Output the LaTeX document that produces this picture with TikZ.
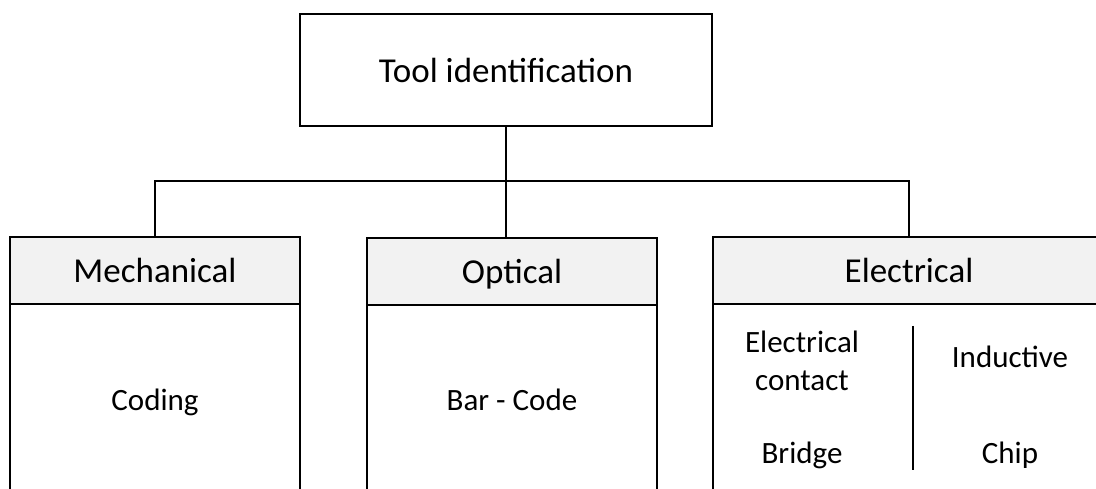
\documentclass[tikz,border=0pt]{standalone}
\usepackage{fontspec}
\setmainfont{Carlito}
\definecolor{headfill}{HTML}{F2F2F2}
\begin{document}
\begin{tikzpicture}[x=1pt,y=-1pt,
  box/.style={draw=black, line width=1.7pt, inner sep=0pt},
  head/.style={box, fill=headfill, font=\fontsize{35}{42}\selectfont,
               text height=25pt, text depth=0pt},
  body/.style={box, fill=white},
  label/.style={font=\fontsize{31}{38}\selectfont, align=center, inner sep=0pt},
  link/.style={draw=black, line width=1.6pt}]
\useasboundingbox (0,0) rectangle (1096,489);
\clip (0,0) rectangle (1096,489);

% root
\node[box, minimum width=412pt, minimum height=112pt,
      font=\fontsize{35}{42}\selectfont, text height=26pt, text depth=0pt]
      (top) at (506,70) {Tool identification};

% column bodies (run past the lower edge)
\node[body, minimum width=290pt, minimum height=220pt, anchor=north] (mechbody) at (155,303) {};
\node[body, minimum width=290pt, minimum height=220pt, anchor=north] (optbody) at (512,304) {};
\node[body, minimum width=392pt, minimum height=220pt, anchor=north] (elecbody) at (909,303) {};

% column headers
\node[head, minimum width=290pt, minimum height=67pt, anchor=north] (mech) at (155,236) {Mechanical};
\node[head, minimum width=290pt, minimum height=67pt, anchor=north] (opt) at (512,237) {Optical};
\node[head, minimum width=392pt, minimum height=67pt, anchor=north] (elec) at (909,236) {Electrical};

% connectors
\draw[link] (top.south) -- (top.south |- opt.north);
\draw[link] (mech.north) -- ++(0,-55) -| (elec.north);

% contents
\node[label, anchor=base] (coding) at (155,410) {Coding};
\node[label, anchor=base] (barcode) at (512,410) {Bar - Code};
\node[label] (contact) at (802,361) {Electrical\\contact};
\node[label, anchor=base] (inductive) at (1010,367) {Inductive};
\node[label, anchor=base] (bridge) at (802,463) {Bridge};
\node[label, anchor=base] (chip) at (1010,463) {Chip};

\coordinate (divtop) at (913,326);
\coordinate (divbot) at (913,470);
\draw[link] (divtop) -- (divbot);
\end{tikzpicture}
\end{document}
